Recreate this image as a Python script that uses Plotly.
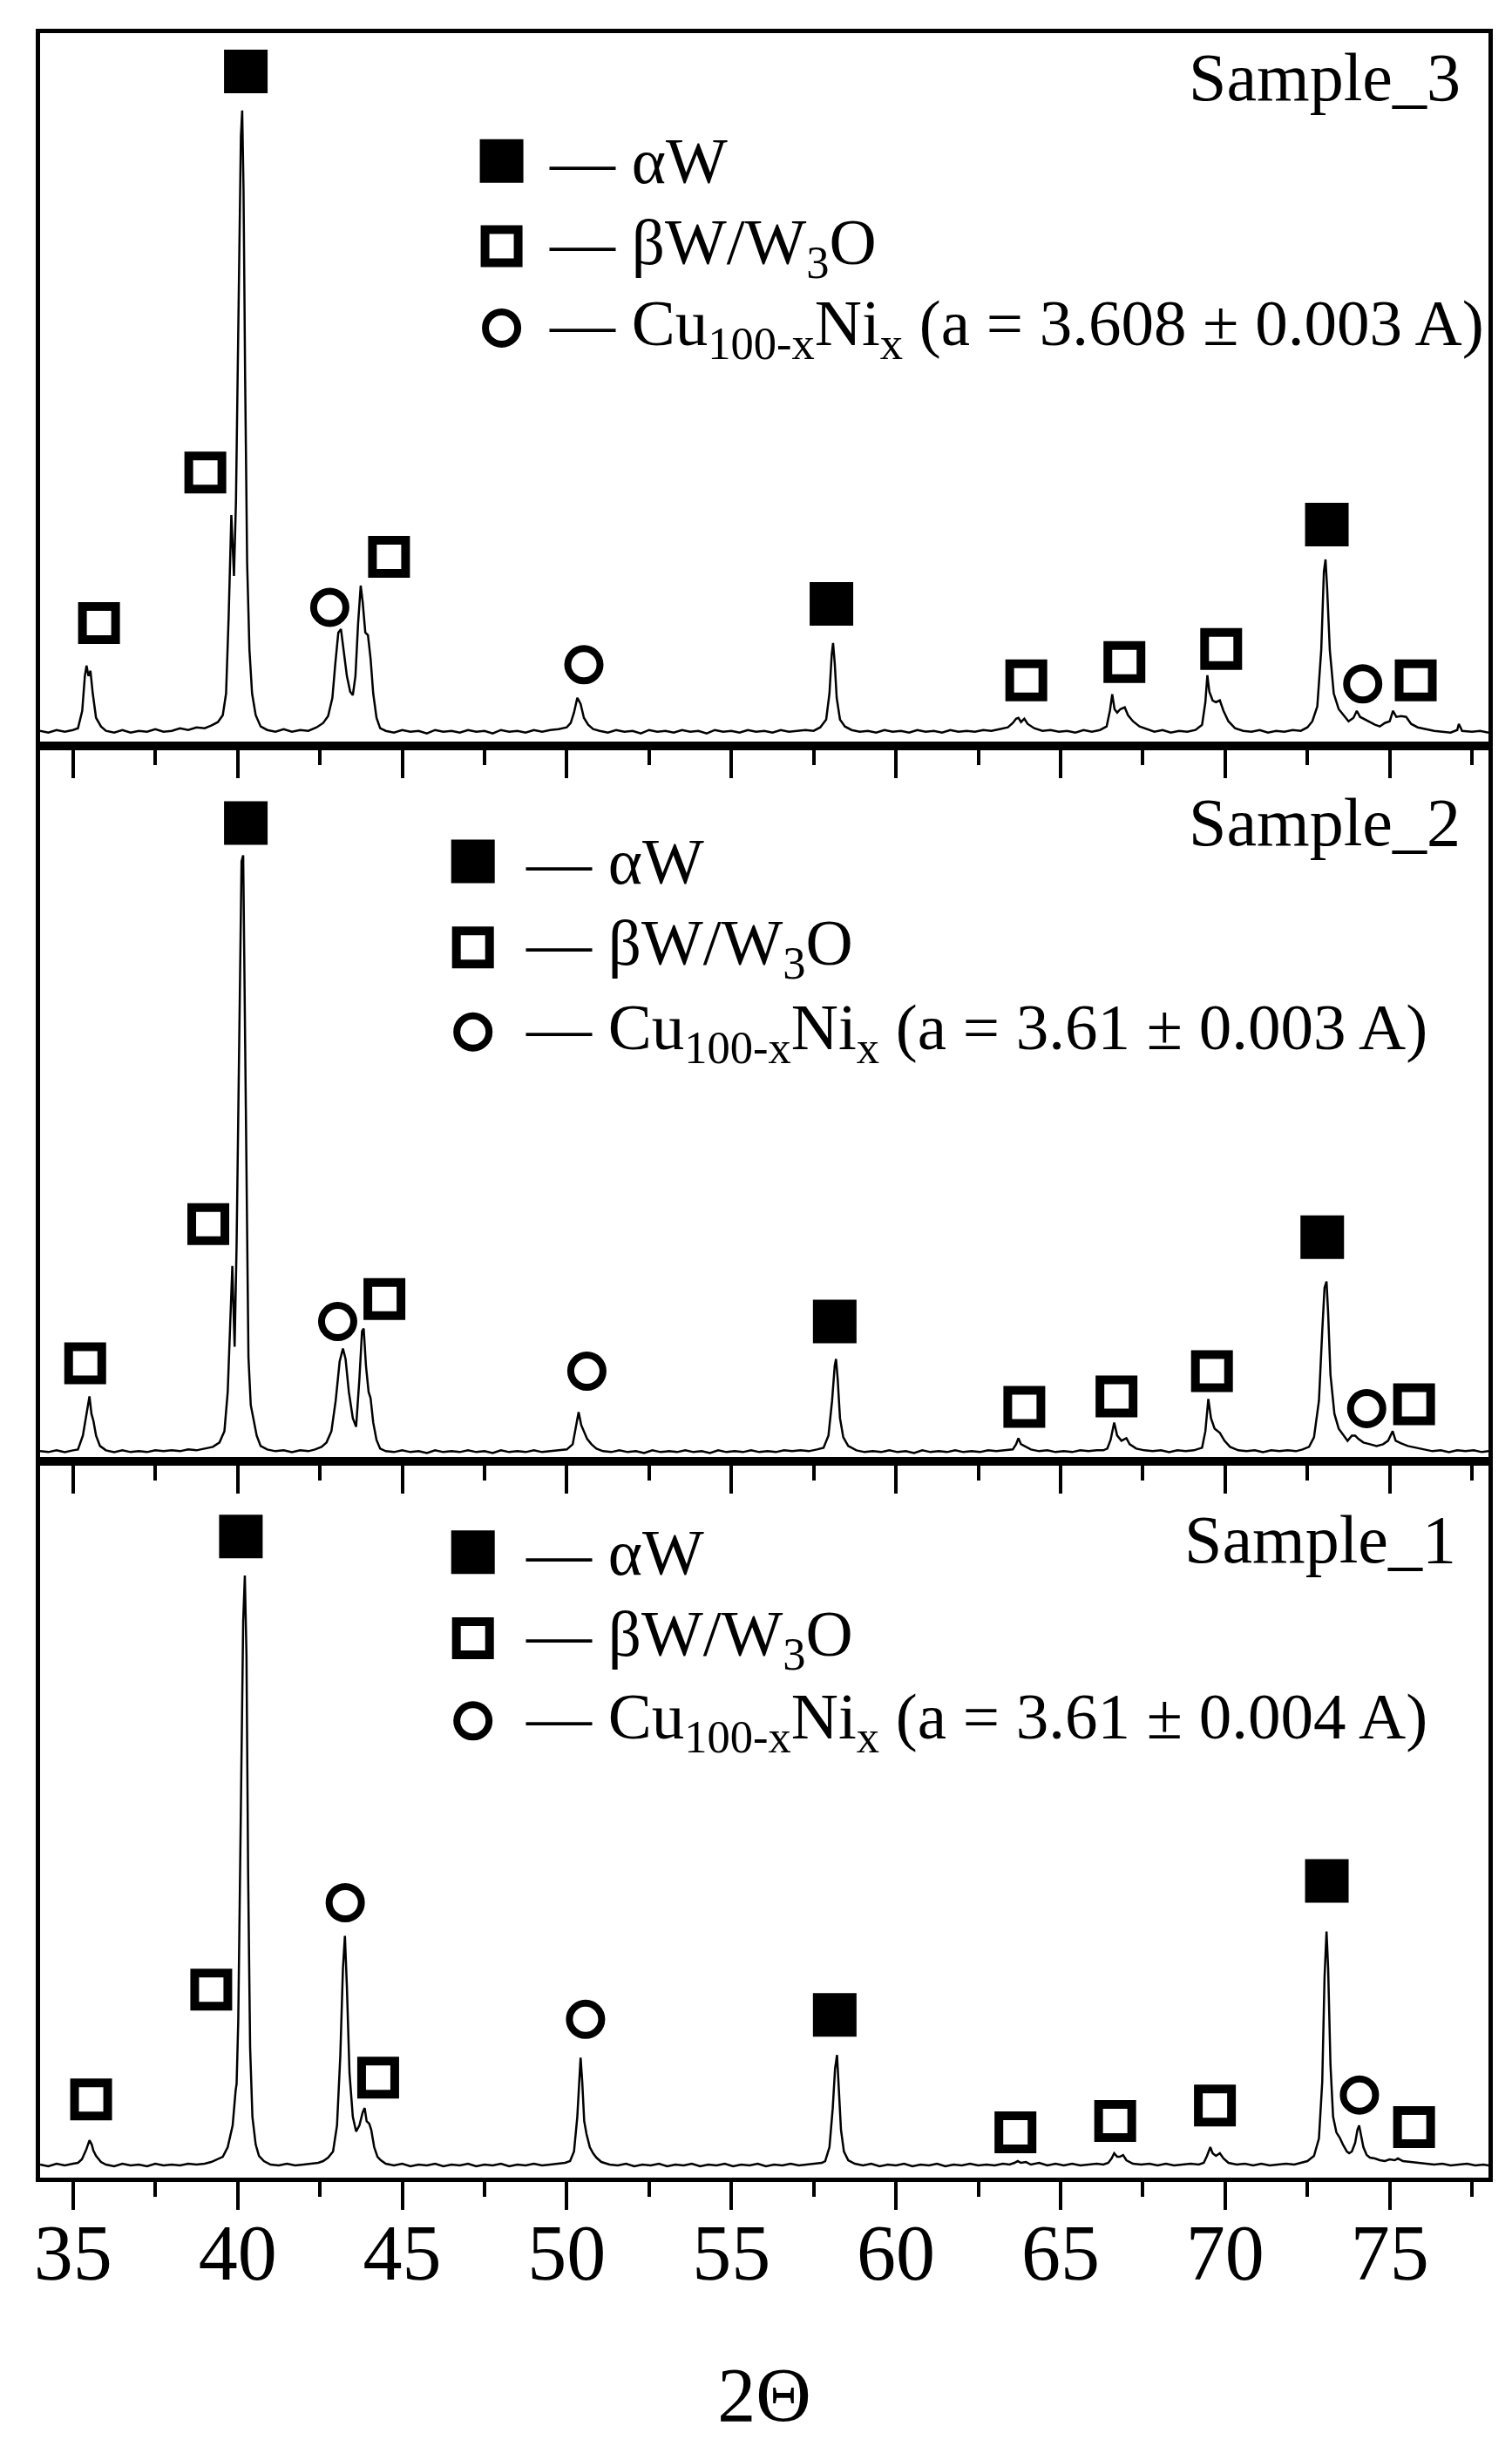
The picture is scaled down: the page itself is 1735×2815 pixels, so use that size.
import plotly.graph_objects as go
from plotly.subplots import make_subplots

# XRD patterns: (2theta, height above panel floor)
sample3_pattern = [
    (34.00, 17), (34.25, 15), (34.50, 18), (34.75, 16), (35.00, 18), (35.15, 20), (35.28, 40), (35.36, 80),
    (35.41, 92), (35.47, 80), (35.53, 86), (35.60, 60), (35.70, 32), (35.85, 22), (36.00, 17), (36.25, 15),
    (36.50, 18), (36.75, 15), (37.00, 17), (37.25, 16), (37.50, 19), (37.75, 16), (38.00, 17), (38.25, 20),
    (38.50, 18), (38.75, 21), (39.00, 20), (39.20, 23), (39.40, 27), (39.55, 35), (39.65, 60), (39.73, 150),
    (39.81, 265), (39.85, 230), (39.89, 195), (39.95, 280), (40.03, 500), (40.10, 700), (40.14, 730),
    (40.18, 640), (40.23, 420), (40.29, 210), (40.36, 110), (40.44, 60), (40.55, 35), (40.70, 22),
    (40.90, 18), (41.15, 16), (41.40, 19), (41.65, 16), (41.90, 18), (42.15, 17), (42.40, 21), (42.60, 26),
    (42.75, 34), (42.88, 55), (42.97, 95), (43.06, 130), (43.14, 134), (43.22, 110), (43.32, 80),
    (43.42, 62), (43.50, 58), (43.58, 80), (43.66, 140), (43.74, 184), (43.80, 165), (43.88, 130),
    (43.96, 127), (44.04, 100), (44.12, 60), (44.22, 32), (44.33, 20), (44.50, 17), (44.75, 15),
    (45.00, 18), (45.25, 16), (45.50, 17), (45.75, 14), (46.00, 18), (46.25, 16), (46.50, 17), (46.75, 15),
    (47.00, 18), (47.25, 16), (47.50, 17), (47.75, 14), (48.00, 18), (48.25, 16), (48.50, 17), (48.75, 15),
    (49.00, 18), (49.25, 16), (49.50, 18), (49.75, 19), (50.00, 21), (50.12, 26), (50.22, 38), (50.32, 55),
    (50.42, 48), (50.52, 32), (50.65, 24), (50.80, 19), (51.00, 17), (51.25, 15), (51.50, 18), (51.75, 16),
    (52.00, 17), (52.25, 14), (52.50, 18), (52.75, 16), (53.00, 17), (53.25, 15), (53.50, 18), (53.75, 16),
    (54.00, 17), (54.25, 14), (54.50, 18), (54.75, 16), (55.00, 17), (55.25, 15), (55.50, 18), (55.75, 16),
    (56.00, 17), (56.25, 15), (56.50, 18), (56.75, 16), (57.00, 17), (57.25, 18), (57.50, 17), (57.70, 21),
    (57.88, 30), (57.98, 60), (58.05, 105), (58.09, 118), (58.14, 95), (58.20, 55), (58.30, 30),
    (58.45, 22), (58.65, 18), (58.90, 16), (59.15, 17), (59.40, 15), (59.65, 18), (59.90, 16), (60.15, 17),
    (60.40, 15), (60.65, 18), (60.90, 16), (61.15, 17), (61.40, 15), (61.65, 18), (61.90, 16), (62.15, 17),
    (62.40, 16), (62.65, 18), (62.90, 17), (63.15, 19), (63.40, 21), (63.55, 26), (63.65, 31), (63.72, 32),
    (63.80, 27), (63.90, 31), (64.00, 25), (64.20, 20), (64.45, 17), (64.70, 18), (64.95, 16), (65.20, 17),
    (65.45, 15), (65.70, 18), (65.95, 16), (66.20, 18), (66.40, 22), (66.50, 40), (66.57, 59), (66.64, 42),
    (66.72, 38), (66.82, 42), (66.95, 44), (67.05, 35), (67.20, 28), (67.40, 22), (67.60, 19), (67.85, 16),
    (68.10, 18), (68.35, 15), (68.60, 17), (68.85, 16), (69.10, 18), (69.30, 24), (69.40, 50), (69.46, 81),
    (69.52, 62), (69.62, 52), (69.72, 50), (69.84, 52), (69.95, 40), (70.10, 28), (70.30, 20), (70.55, 17),
    (70.80, 16), (71.05, 18), (71.30, 15), (71.55, 17), (71.80, 16), (72.05, 18), (72.30, 17), (72.50, 21),
    (72.65, 28), (72.80, 45), (72.92, 110), (73.00, 200), (73.05, 214), (73.10, 180), (73.18, 110),
    (73.30, 60), (73.45, 42), (73.60, 35), (73.75, 28), (73.90, 32), (74.00, 40), (74.10, 33), (74.25, 30),
    (74.40, 27), (74.55, 24), (74.70, 22), (74.85, 26), (75.00, 28), (75.10, 40), (75.20, 33), (75.35, 34),
    (75.50, 33), (75.65, 25), (75.85, 21), (76.10, 19), (76.35, 17), (76.60, 16), (76.85, 15), (77.05, 18),
    (77.10, 25), (77.20, 17), (77.50, 16), (77.75, 17), (78.00, 15),
]

sample2_pattern = [
    (34.00, 12), (34.25, 11), (34.50, 13), (34.75, 11), (35.00, 13), (35.15, 14), (35.30, 30), (35.42, 60),
    (35.50, 75), (35.56, 55), (35.62, 47), (35.70, 30), (35.82, 18), (36.00, 13), (36.25, 11), (36.50, 13),
    (36.75, 11), (37.00, 12), (37.25, 11), (37.50, 13), (37.75, 12), (38.00, 13), (38.25, 12), (38.50, 14),
    (38.75, 13), (39.00, 15), (39.25, 17), (39.45, 22), (39.60, 35), (39.70, 80), (39.78, 170), (39.84, 225),
    (39.88, 170), (39.91, 132), (39.97, 250), (40.05, 520), (40.12, 690), (40.17, 697), (40.22, 520),
    (40.27, 280), (40.33, 120), (40.40, 65), (40.48, 48), (40.58, 30), (40.70, 18), (40.90, 14),
    (41.15, 12), (41.40, 13), (41.65, 11), (41.90, 13), (42.15, 12), (42.35, 14), (42.55, 17), (42.70, 22),
    (42.85, 35), (42.98, 70), (43.10, 115), (43.20, 130), (43.28, 118), (43.38, 80), (43.50, 50),
    (43.60, 40), (43.70, 95), (43.78, 150), (43.83, 153), (43.90, 110), (43.98, 80), (44.04, 73),
    (44.12, 45), (44.22, 25), (44.33, 15), (44.50, 12), (44.75, 11), (45.00, 13), (45.25, 11), (45.50, 12),
    (45.75, 10), (46.00, 13), (46.25, 11), (46.50, 12), (46.75, 11), (47.00, 13), (47.25, 11), (47.50, 12),
    (47.75, 10), (48.00, 13), (48.25, 11), (48.50, 12), (48.75, 11), (49.00, 13), (49.25, 11), (49.50, 12),
    (49.75, 13), (50.00, 14), (50.18, 20), (50.28, 40), (50.36, 57), (50.44, 42), (50.54, 33), (50.62, 26),
    (50.75, 20), (50.90, 15), (51.10, 12), (51.35, 11), (51.60, 13), (51.85, 11), (52.10, 12), (52.35, 10),
    (52.60, 13), (52.85, 11), (53.10, 12), (53.35, 11), (53.60, 13), (53.85, 11), (54.10, 12), (54.35, 10),
    (54.60, 13), (54.85, 11), (55.10, 12), (55.35, 11), (55.60, 13), (55.85, 11), (56.10, 12), (56.35, 11),
    (56.60, 13), (56.85, 12), (57.10, 13), (57.35, 12), (57.60, 14), (57.80, 16), (57.95, 30), (58.06, 70),
    (58.14, 110), (58.18, 118), (58.23, 95), (58.30, 50), (58.40, 28), (58.55, 18), (58.80, 13),
    (59.05, 11), (59.30, 12), (59.55, 11), (59.80, 13), (60.05, 11), (60.30, 12), (60.55, 10), (60.80, 13),
    (61.05, 11), (61.30, 12), (61.55, 11), (61.80, 13), (62.05, 11), (62.30, 12), (62.55, 11), (62.80, 13),
    (63.05, 12), (63.30, 13), (63.55, 14), (63.65, 20), (63.72, 27), (63.80, 20), (63.95, 17), (64.10, 14),
    (64.35, 12), (64.60, 13), (64.85, 11), (65.10, 12), (65.35, 11), (65.60, 13), (65.85, 12), (66.10, 13),
    (66.30, 13), (66.42, 15), (66.52, 25), (66.63, 45), (66.72, 30), (66.85, 24), (67.00, 27), (67.10, 20),
    (67.30, 15), (67.55, 13), (67.80, 12), (68.05, 13), (68.30, 11), (68.55, 13), (68.80, 12), (69.05, 13),
    (69.30, 16), (69.40, 35), (69.49, 72), (69.57, 50), (69.68, 38), (69.84, 33), (69.98, 24), (70.15, 17),
    (70.40, 13), (70.65, 12), (70.90, 13), (71.15, 11), (71.40, 13), (71.65, 12), (71.90, 13), (72.15, 12),
    (72.35, 14), (72.55, 17), (72.70, 28), (72.85, 70), (72.95, 150), (73.02, 200), (73.08, 207),
    (73.13, 170), (73.20, 100), (73.32, 55), (73.45, 38), (73.60, 30), (73.72, 24), (73.85, 30),
    (73.95, 30), (74.05, 26), (74.20, 22), (74.40, 20), (74.60, 18), (74.80, 20), (74.95, 24), (75.09, 35),
    (75.18, 24), (75.35, 21), (75.55, 18), (75.80, 16), (76.05, 14), (76.30, 12), (76.55, 13), (76.80, 11),
    (77.05, 13), (77.30, 12), (77.55, 13), (77.80, 11), (78.00, 12),
]

sample1_pattern = [
    (34.00, 15), (34.25, 13), (34.50, 16), (34.75, 14), (35.00, 16), (35.15, 17), (35.27, 21), (35.40, 32),
    (35.50, 43), (35.57, 38), (35.62, 31), (35.70, 25), (35.85, 18), (36.00, 15), (36.25, 13), (36.50, 16),
    (36.75, 14), (37.00, 15), (37.25, 13), (37.50, 16), (37.75, 14), (38.00, 15), (38.25, 14), (38.50, 16),
    (38.75, 15), (39.00, 16), (39.20, 18), (39.40, 21), (39.55, 24), (39.70, 35), (39.85, 60), (39.94, 100),
    (39.97, 108), (40.02, 180), (40.10, 400), (40.17, 640), (40.22, 692), (40.27, 600), (40.32, 350),
    (40.38, 150), (40.45, 70), (40.55, 38), (40.65, 25), (40.80, 19), (41.00, 15), (41.25, 14), (41.50, 16),
    (41.75, 14), (42.00, 15), (42.25, 16), (42.45, 17), (42.60, 19), (42.75, 23), (42.90, 30), (43.02, 60),
    (43.12, 140), (43.20, 240), (43.26, 278), (43.32, 220), (43.40, 120), (43.50, 70), (43.60, 53),
    (43.70, 60), (43.80, 75), (43.86, 80), (43.92, 65), (44.00, 62), (44.06, 55), (44.15, 35), (44.25, 24),
    (44.35, 20), (44.50, 16), (44.75, 14), (45.00, 16), (45.25, 13), (45.50, 15), (45.75, 14), (46.00, 16),
    (46.25, 13), (46.50, 15), (46.75, 14), (47.00, 16), (47.25, 13), (47.50, 15), (47.75, 14), (48.00, 16),
    (48.25, 13), (48.50, 15), (48.75, 14), (49.00, 16), (49.25, 14), (49.50, 15), (49.75, 16), (49.95, 17),
    (50.10, 19), (50.22, 30), (50.32, 70), (50.38, 115), (50.42, 138), (50.47, 110), (50.53, 65),
    (50.60, 50), (50.70, 35), (50.80, 28), (50.90, 23), (51.05, 18), (51.30, 15), (51.55, 14), (51.80, 16),
    (52.05, 13), (52.30, 15), (52.55, 14), (52.80, 16), (53.05, 13), (53.30, 15), (53.55, 14), (53.80, 16),
    (54.05, 13), (54.30, 15), (54.55, 14), (54.80, 16), (55.05, 13), (55.30, 15), (55.55, 14), (55.80, 16),
    (56.05, 13), (56.30, 15), (56.55, 14), (56.80, 16), (57.05, 14), (57.30, 15), (57.55, 16), (57.75, 17),
    (57.85, 19), (57.98, 35), (58.08, 80), (58.15, 125), (58.21, 141), (58.26, 110), (58.33, 55),
    (58.42, 30), (58.55, 20), (58.75, 16), (59.00, 14), (59.25, 16), (59.50, 13), (59.75, 15), (60.00, 14),
    (60.25, 16), (60.50, 13), (60.75, 15), (61.00, 14), (61.25, 16), (61.50, 13), (61.75, 15), (62.00, 14),
    (62.25, 16), (62.50, 14), (62.75, 15), (63.00, 14), (63.25, 16), (63.45, 15), (63.60, 17), (63.70, 19),
    (63.80, 17), (63.95, 18), (64.10, 15), (64.35, 17), (64.60, 14), (64.85, 16), (65.10, 14), (65.35, 16),
    (65.60, 14), (65.85, 15), (66.10, 16), (66.30, 15), (66.45, 17), (66.55, 22), (66.63, 28), (66.72, 24),
    (66.80, 24), (66.90, 26), (67.00, 20), (67.20, 16), (67.45, 15), (67.70, 16), (67.95, 14), (68.20, 16),
    (68.45, 14), (68.70, 15), (68.95, 16), (69.20, 15), (69.35, 17), (69.45, 25), (69.55, 35), (69.62, 28),
    (69.72, 25), (69.84, 28), (69.95, 22), (70.10, 17), (70.35, 15), (70.60, 16), (70.85, 14), (71.10, 16),
    (71.35, 14), (71.60, 15), (71.85, 16), (72.10, 15), (72.30, 17), (72.50, 19), (72.70, 25), (72.85, 45),
    (72.95, 110), (73.02, 230), (73.08, 283), (73.13, 240), (73.20, 130), (73.28, 70), (73.38, 52),
    (73.48, 46), (73.58, 38), (73.70, 30), (73.77, 28), (73.85, 30), (73.95, 40), (74.02, 55), (74.07, 60),
    (74.12, 50), (74.20, 35), (74.30, 26), (74.40, 23), (74.55, 22), (74.70, 20), (74.85, 19), (75.00, 21),
    (75.15, 20), (75.25, 22), (75.40, 19), (75.60, 18), (75.85, 17), (76.10, 16), (76.35, 15), (76.60, 16),
    (76.85, 14), (77.10, 15), (77.35, 16), (77.60, 14), (77.85, 15), (78.00, 14),
]

# phase marks above the peaks
s3_alpha_x = [40.25, 58.04, 73.09]
s3_alpha_y = [775, 163, 254]
s3_beta_x = [35.79, 39.02, 44.60, 63.96, 66.94, 69.88, 75.79]
s3_beta_y = [141, 314, 217, 75, 96, 111, 75]
s3_cu_x = [42.80, 50.52, 74.18]
s3_cu_y = [159, 93, 71]

s2_alpha_x = [40.25, 58.14, 72.95]
s2_alpha_y = [734, 161, 258]
s2_beta_x = [35.37, 39.11, 44.46, 63.90, 66.70, 69.60, 75.74]
s2_beta_y = [113, 273, 187, 63, 75, 104, 66]
s2_cu_x = [43.04, 50.61, 74.30]
s2_cu_y = [161, 104, 61]

s1_alpha_x = [40.10, 58.14, 73.09]
s1_alpha_y = [737, 187, 341]
s1_beta_x = [35.55, 39.20, 44.27, 63.63, 66.66, 69.69, 75.74]
s1_beta_y = [90, 216, 115, 52, 65, 83, 58]
s1_cu_x = [43.27, 50.57, 74.08]
s1_cu_y = [316, 182, 95]

# key rows (marker x, text x, row heights)
key_marker_x = [48.02, 47.15, 47.15]
key_text_x = [49.40, 48.70, 48.70]
key_rows_y = [[672, 574, 480], [690, 591, 494], [719, 620, 525]]

sample_names = ["Sample_3", "Sample_2", "Sample_1"]
sample_pos = [(0.982, 0.938), (0.982, 0.893), (0.979, 0.891)]
lattice_text = ["(a = 3.608 ± 0.003 A)", "(a = 3.61 ± 0.003 A)", "(a = 3.61 ± 0.004 A)"]
panel_heights = [819, 823, 823]
x_ticks = [35, 40, 45, 50, 55, 60, 65, 70, 75]

FONT = "Liberation Serif"
alpha_marker = dict(symbol="square", size=46, color="black", line=dict(width=4, color="black"))
beta_marker = dict(symbol="square-open", size=38, color="black", line=dict(width=10, color="black"))
cu_marker = dict(symbol="circle-open", size=37, color="black", line=dict(width=8, color="black"))

patterns = [sample3_pattern, sample2_pattern, sample1_pattern]
marks = [
    (s3_alpha_x, s3_alpha_y, s3_beta_x, s3_beta_y, s3_cu_x, s3_cu_y),
    (s2_alpha_x, s2_alpha_y, s2_beta_x, s2_beta_y, s2_cu_x, s2_cu_y),
    (s1_alpha_x, s1_alpha_y, s1_beta_x, s1_beta_y, s1_cu_x, s1_cu_y),
]

fig = make_subplots(rows=3, cols=1, shared_xaxes=True, vertical_spacing=0,
                    row_heights=panel_heights)

for i in range(3):
    row = i + 1
    px = [p[0] for p in patterns[i]]
    py = [p[1] for p in patterns[i]]
    fig.add_trace(go.Scatter(x=px, y=py, mode="lines",
                             line=dict(color="black", width=2.5)), row=row, col=1)
    ax, ay, bx, by, cx, cy = marks[i]
    fig.add_trace(go.Scatter(x=ax, y=ay, mode="markers", marker=alpha_marker), row=row, col=1)
    fig.add_trace(go.Scatter(x=bx, y=by, mode="markers", marker=beta_marker), row=row, col=1)
    fig.add_trace(go.Scatter(x=cx, y=cy, mode="markers", marker=cu_marker), row=row, col=1)

    ky = key_rows_y[i]
    kx = key_marker_x[i]
    fig.add_trace(go.Scatter(x=[kx], y=[ky[0]], mode="markers", marker=alpha_marker), row=row, col=1)
    fig.add_trace(go.Scatter(x=[kx], y=[ky[1]], mode="markers", marker=beta_marker), row=row, col=1)
    fig.add_trace(go.Scatter(x=[kx], y=[ky[2]], mode="markers", marker=cu_marker), row=row, col=1)

    xr = "x" if row == 1 else f"x{row}"
    yr = "y" if row == 1 else f"y{row}"
    key_texts = ["— αW", "— βW/W<sub>3</sub>O",
                 "— Cu<sub>100-x</sub>Ni<sub>x</sub> " + lattice_text[i]]
    for t, yy in zip(key_texts, ky):
        fig.add_annotation(x=key_text_x[i], y=yy, xref=xr, yref=yr, text=t,
                           showarrow=False, xanchor="left", yanchor="middle",
                           font=dict(family=FONT, size=75, color="black"))
    fig.add_annotation(x=sample_pos[i][0], y=sample_pos[i][1],
                       xref=xr + " domain", yref=yr + " domain",
                       text=sample_names[i], showarrow=False,
                       xanchor="right", yanchor="middle",
                       font=dict(family=FONT, size=78, color="black"))

    fig.update_yaxes(range=[0, panel_heights[i]], showline=True, linewidth=5, linecolor="black",
                     mirror=True, ticks="", showticklabels=False, showgrid=False,
                     zeroline=False, row=row, col=1)
    fig.update_xaxes(range=[34.0, 78.0], tickvals=x_ticks, ticks="outside", ticklen=32,
                     tickwidth=4, tickcolor="black", showline=True, linewidth=5,
                     linecolor="black", mirror=True, showgrid=False, zeroline=False,
                     minor=dict(dtick=2.5, tick0=35, ticks="outside", ticklen=17,
                                tickwidth=4, tickcolor="black", showgrid=False),
                     row=row, col=1)

fig.update_xaxes(showticklabels=True, tickfont=dict(family=FONT, size=90, color="black"),
                 ticklabelstandoff=-28,
                 title=dict(text="2Θ", font=dict(family=FONT, size=88, color="black"),
                            standoff=84),
                 row=3, col=1)

fig.update_layout(width=1735, height=2815, showlegend=False,
                  margin=dict(l=38, r=35, t=30, b=324),
                  paper_bgcolor="white", plot_bgcolor="white",
                  font=dict(family=FONT, color="black"))

fig.write_html("out.html")
